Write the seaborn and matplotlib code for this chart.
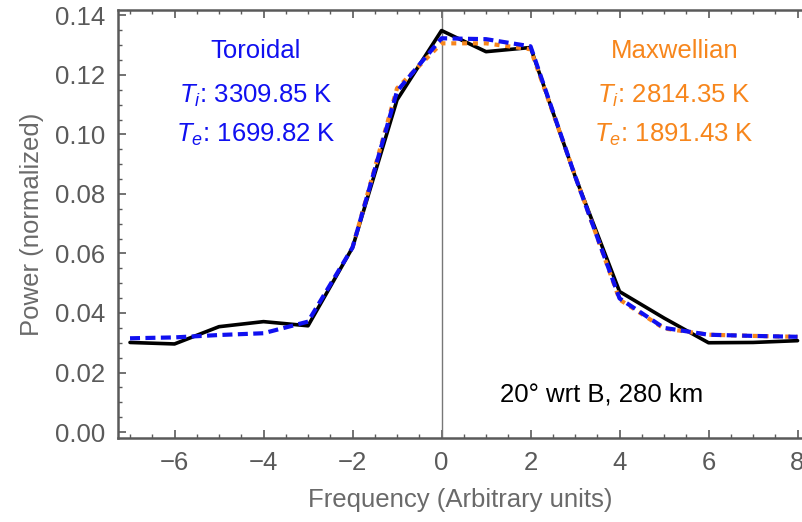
import numpy as np
import pandas as pd
import matplotlib
matplotlib.use("Agg")
import matplotlib.pyplot as plt
import seaborn as sns
from matplotlib.ticker import MultipleLocator, FormatStrFormatter

# ---- data ----
freq = [-7, -6, -5, -4, -3, -2, -1, 0, 1, 2, 3, 4, 5, 6, 7, 8]
measured = [0.0301, 0.0296, 0.0354, 0.0371, 0.0357, 0.0620, 0.1116, 0.1349,
            0.1278, 0.1292, 0.0860, 0.0472, 0.0383, 0.0300, 0.0301, 0.0307]
toroidal = [0.0315, 0.0318, 0.0326, 0.0332, 0.0371, 0.0620, 0.1145, 0.1323,
            0.1320, 0.1296, 0.0860, 0.0449, 0.0350, 0.0327, 0.0323, 0.0320]
maxw_freq = [-2, -1, 0, 1, 2, 3, 4, 5, 6, 7, 8]
maxwellian = [0.0620, 0.1155, 0.1306, 0.1306, 0.1286, 0.0862, 0.0445,
              0.0348, 0.0327, 0.0323, 0.0320]

x_ticks = [-6, -4, -2, 0, 2, 4, 6, 8]
y_ticks = [0.00, 0.02, 0.04, 0.06, 0.08, 0.10, 0.12, 0.14]

tor_label = ["Toroidal", r"$T_i$: 3309.85 K", r"$T_e$: 1699.82 K"]
max_label = ["Maxwellian", r"$T_i$: 2814.35 K", r"$T_e$: 1891.43 K"]
note = "20° wrt B, 280 km"

# ---- style ----
sns.set_style("white")
plt.rcParams['font.family'] = ['Liberation Sans', 'DejaVu Sans']
plt.rcParams['mathtext.fontset'] = 'custom'
plt.rcParams['mathtext.rm'] = 'Liberation Sans'
plt.rcParams['mathtext.it'] = 'Liberation Sans:italic'
plt.rcParams['mathtext.default'] = 'it'

BLUE = '#1010f0'
ORANGE = '#f7861c'
GRAY = '#5a5a5a'

fig = plt.figure(figsize=(8.02, 5.22), dpi=100)
ax = fig.add_axes([118 / 802, 1 - 438 / 522, (802 - 118) / 802, (438 - 10) / 522])

df_meas = pd.DataFrame({"x": freq, "y": measured})
df_tor = pd.DataFrame({"x": freq, "y": toroidal})
df_max = pd.DataFrame({"x": maxw_freq, "y": maxwellian})

ax.axvline(0, color='#777777', lw=1.0, zorder=1)

sns.lineplot(data=df_meas, x="x", y="y", ax=ax, color='black', lw=2.6, zorder=3,
             estimator=None, sort=False)
sns.lineplot(data=df_max, x="x", y="y", ax=ax, color=ORANGE, lw=3.0, zorder=4,
             estimator=None, sort=False)
ax.lines[-1].set_dashes([1.2, 1.4])
sns.lineplot(data=df_tor, x="x", y="y", ax=ax, color=BLUE, lw=3.0, zorder=5,
             estimator=None, sort=False)
ax.lines[-1].set_dashes([2.4, 1.3])

ax.set_xlim(-7.27, 8.10)
ax.set_ylim(-0.002, 0.1418)
ax.set_xticks(x_ticks)
ax.set_yticks(y_ticks)
ax.xaxis.set_minor_locator(MultipleLocator(0.5))
ax.yaxis.set_minor_locator(MultipleLocator(0.005))
ax.yaxis.set_major_formatter(FormatStrFormatter('%.2f'))

for side in ['left', 'bottom', 'top']:
    ax.spines[side].set_visible(True)
    ax.spines[side].set_color(GRAY)
    ax.spines[side].set_linewidth(1.8)
ax.spines['right'].set_visible(False)

ax.tick_params(which='both', direction='in', top=True, bottom=True, left=True,
               right=False, color=GRAY, labelcolor=GRAY, labelsize=18.5)
ax.tick_params(which='major', length=6, width=1.2, pad=9)
ax.tick_params(which='minor', length=3, width=1.0)

ax.set_xlabel("Frequency (Arbitrary units)", fontsize=18.5, color='#6a6a6a', labelpad=10)
ax.set_ylabel("Power (normalized)", fontsize=18.5, color='#6a6a6a', labelpad=8)

# annotations
ys = [0.1280, 0.1128, 0.0998]
for t, y in zip(tor_label, ys):
    ax.text(-4.18, y, t, color=BLUE, fontsize=18.5, ha='center', va='center')
for t, y in zip(max_label, ys):
    ax.text(5.23, y, t, color=ORANGE, fontsize=18.5, ha='center', va='center')
ax.text(3.6, 0.0125, note, color='black', fontsize=18.5, ha='center', va='center')

fig.savefig("out.png", dpi=100)
